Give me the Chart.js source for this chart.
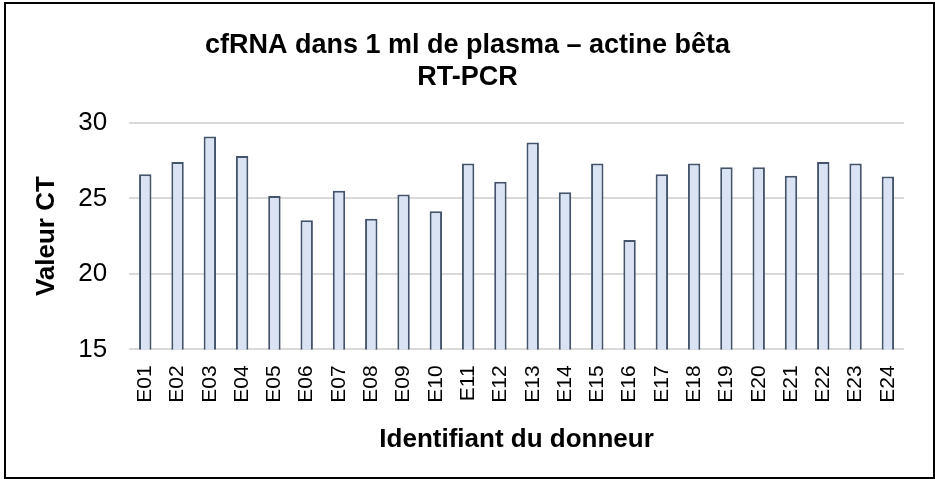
<!DOCTYPE html>
<html>
<head>
<meta charset="utf-8">
<script src="https://cdn.jsdelivr.net/npm/chart.js@4"></script>
<style>
html, body { margin: 0; padding: 0; background: #fff; }
#cadre {
  position: absolute; left: 4px; top: 2px;
  width: 927px; height: 473px;
  border: 2px solid #000;
  background: #fff;
}
#graphique { display: block; }
</style>
</head>
<body>
<div id="cadre"><canvas id="graphique" width="927" height="473"></canvas></div>
<script>
// donneurs (axe X)
const donneurs = ["E01","E02","E03","E04","E05","E06","E07","E08","E09","E10","E11","E12",
                  "E13","E14","E15","E16","E17","E18","E19","E20","E21","E22","E23","E24"];
// valeurs CT
const valeursCT = [26.6, 27.4, 29.1, 27.8, 25.15, 23.55, 25.5, 23.65, 25.25, 24.15, 27.3, 26.1,
                   28.7, 25.4, 27.3, 22.25, 26.6, 27.3, 27.05, 27.05, 26.5, 27.4, 27.3, 26.45];
// graduations axe Y
const axeY = { min: 15, max: 30, pas: 5 };

const police = "'Liberation Sans', Arial, sans-serif";

const graphique = new Chart(document.getElementById('graphique'), {
  type: 'bar',
  data: {
    labels: donneurs,
    datasets: [{
      label: 'Valeur CT',
      data: valeursCT,
      backgroundColor: '#dae3f3',
      borderColor: '#44546a',
      borderWidth: 2,
      borderSkipped: 'bottom',
      barPercentage: 0.62,
      categoryPercentage: 0.62
    }]
  },
  options: {
    responsive: false,
    animation: false,
    layout: { padding: { left: 25, right: 29, top: 25, bottom: 22 } },
    plugins: {
      legend: { display: false },
      tooltip: { enabled: false },
      title: {
        display: true,
        text: ['cfRNA dans 1 ml de plasma – actine bêta', 'RT-PCR'],
        color: '#000',
        font: { family: police, size: 27, weight: 'bold', lineHeight: 1.2 },
        padding: { top: 0, bottom: 29 }
      }
    },
    scales: {
      x: {
        grid: { display: false, drawTicks: false },
        border: { display: false },
        ticks: {
          color: '#000',
          maxRotation: 90, minRotation: 90,
          padding: 16,
          font: { family: police, size: 21 }
        },
        title: {
          display: true,
          text: 'Identifiant du donneur',
          color: '#000',
          font: { family: police, size: 26, weight: 'bold', lineHeight: 1.2 },
          padding: { top: 5, bottom: 0 }
        }
      },
      y: {
        min: axeY.min, max: axeY.max,
        grid: { color: '#d9d9d9', lineWidth: 2, drawTicks: false },
        border: { display: false },
        ticks: {
          stepSize: axeY.pas,
          color: '#000',
          padding: 22,
          font: { family: police, size: 26 }
        },
        title: {
          display: true,
          text: 'Valeur CT',
          color: '#000',
          font: { family: police, size: 26, weight: 'bold', lineHeight: 1.2 },
          padding: { top: 0, bottom: -6 }
        }
      }
    }
  }
});
</script>
</body>
</html>
